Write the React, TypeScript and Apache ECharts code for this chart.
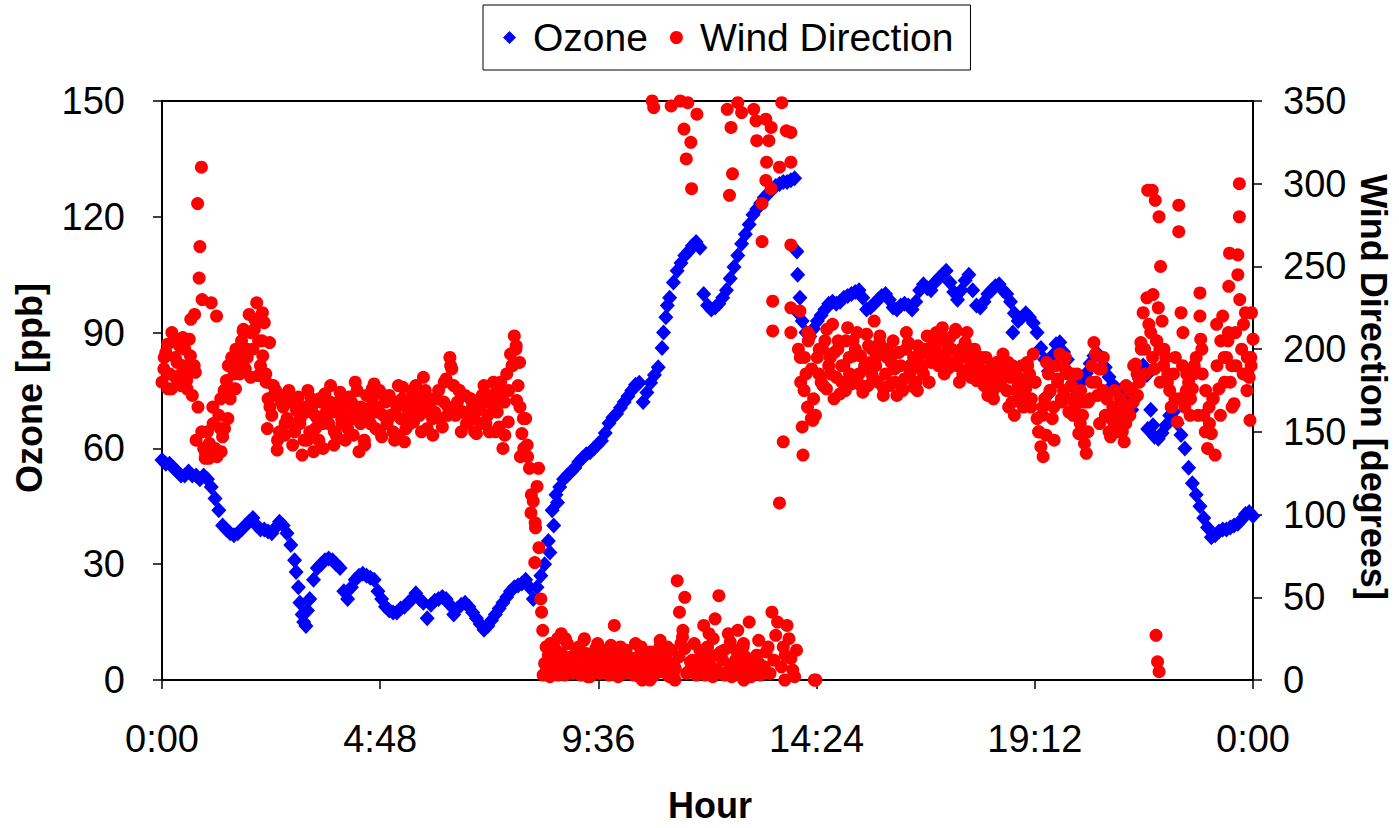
import React, { useEffect, useRef } from "react";
import * as echarts from "echarts";

// time step of the regular series, minutes
const STEP = 5;

const xTickLabels = ["0:00", "4:48", "9:36", "14:24", "19:12", "0:00"];

// Ozone [ppb], every 5 minutes from 0:00 to 24:00 (one row per hour)
const ozone = [
  57, 56, 56, 55, 54, 53, 53, 54, 53, 53, 52, 53,
  52, 50, 47, 44, 40, 39, 38, 37.5, 38, 39, 40, 41,
  42, 40, 39, 39, 38.5, 38, 39.5, 41, 40, 38, 35, 31,
  24, 17, 14, 21, 26, 29, 30, 31, 31.5, 31, 30, 29,
  23, 21, 24, 26, 27, 27.5, 27, 26.5, 26, 23, 21, 19,
  18, 17.5, 17.5, 18.5, 19, 20, 21, 22.5, 21, 20, 16, 19.5,
  20.5, 21, 21.5, 21, 19.5, 17, 18.5, 19.5, 20, 19, 17.5, 16,
  14.5, 13, 14, 15.5, 17, 18.5, 20, 21.5, 23, 24, 24.5, 25,
  26, 24, 21, 24, 27, 30, 36, 44, 48, 50, 52, 53,
  54, 55, 56.5, 57.5, 58.5, 59, 60, 61, 62, 64, 66.5, 68,
  69, 70.5, 72, 73.5, 75, 76.5, 77, 72, 74.5, 77, 79, 81,
  86, 94, 99, 103, 106, 108, 110, 111, 112.5, 113.5, 112, 100,
  97, 96, 96.5, 97.5, 99, 101, 104, 107, 110, 113, 115.5, 118,
  120.5, 122, 123.5, 125, 126, 127, 128, 128.5, 129, 129, 129.5, 130,
  95, 93, 90, 89, 91, 93, 94.5, 96, 97.5, 98, 97.5, 98,
  99, 99.5, 100, 100.5, 101, 99, 96, 96.5, 97.5, 98.5, 99.5, 100,
  98.5, 96.5, 96, 97, 97.5, 97, 96, 98, 101, 102.5, 101.5, 101,
  103, 104, 105, 106, 103, 100.5, 98.5, 101, 103.5, 105, 101, 97,
  96.5, 98, 100, 101, 102, 102.5, 101, 100, 98, 95, 93, 94,
  95, 94, 92.5, 90, 86, 83, 80, 84, 87, 87.5, 85, 83,
  79, 76, 75.5, 77.5, 79.5, 82, 84, 84.5, 83.5, 81, 78.5, 76.5,
  75.5, 75, 74.5, 72, 70, 73, 78, 81.5, 79, 70, 63, 62.5,
  64, 66, 68.5, 69.5, 66.5, 63.5, 60, 55, 51, 48, 45, 42,
  39.5, 37, 37.5, 38.5, 39, 39, 39.5, 40, 40.5, 41.5, 43, 43.5,
  42.5,
];

// additional Ozone readings [minute, ppb]
const ozoneExtra: [number, number][] = [
  [177, 28], [182, 20], [187, 15], [192, 18], [512, 33], [517, 40], [522, 46],
  [662, 90], [667, 97], [838, 111], [839, 105], [842, 99], [1123, 90],
  [1170, 74], [1301, 65], [1308, 66],
];

// Wind direction [degrees], every 5 minutes from 0:00 to 24:00 (one row per hour)
const windDirection = [
  180, 198, 185, 205, 192, 178, 200, 188, 172, 145, 262, 140,
  150, 228, 140, 160, 147, 181, 170, 185, 196, 205, 188, 221,
  200, 228, 190, 216, 170, 160, 175, 150, 165, 158, 168, 150,
  171, 136, 162, 150, 138, 158, 168, 173, 155, 162, 148, 174,
  163, 152, 168, 180, 138, 160, 172, 155, 179, 165, 147, 168,
  172, 150, 165, 158, 144, 168, 175, 178, 160, 183, 152, 170,
  162, 175, 153, 182, 195, 178, 168, 150, 172, 160, 166, 149,
  165, 178, 160, 172, 150, 153, 140, 185, 197, 208, 178, 149,
  158, 128, 108, 117, 49, 10, 15, 5, 18, 8, 12, 22,
  14, 5, 20, 8, 16, 2, 12, 22, 6, 15, 3, 18,
  10, 20, 4, 14, 8, 22, 2, 12, 6, 17, 3, 10,
  5, 15, 2, 10, 60, 22, 50, 5, 12, 3, 18, 33,
  20, 8, 37, 51, 12, 4, 23, 10, 30, 6, 14, 35,
  5, 15, 3, 8, 20, 41, 27, 107, 20, 33, 13, 2,
  200, 153, 185, 208, 170, 195, 180, 205, 190, 215, 183, 173,
  190, 213, 179, 200, 185, 174, 209, 192, 217, 180, 198, 185,
  178, 205, 172, 190, 182, 204, 188, 180, 196, 185, 208, 192,
  200, 190, 213, 198, 207, 192, 190, 200, 204, 188, 195, 181,
  188, 178, 172, 190, 180, 185, 197, 175, 183, 160, 178, 190,
  176, 185, 197, 158, 141, 170, 185, 158, 190, 197, 175, 185,
  178, 165, 149, 160, 137, 170, 204, 172, 188, 160, 150, 165,
  158, 170, 144, 165, 176, 191, 180, 222, 231, 210, 188, 225,
  217, 195, 175, 185, 156, 222, 165, 180, 176, 195, 220, 160,
  140, 149, 136, 176, 220, 195, 180, 167, 245, 200, 222, 183,
  206,
];

// Wind direction [degrees], readings half-way between the rows above (minute 2.5, 7.5, ...)
const windDirectionMid = [
  188, 203, 176, 195, 184, 207, 181, 196, 190, 165, 150, 137,
  143, 155, 135, 170, 152, 190, 176, 200, 185, 212, 195, 210,
  218, 205, 222, 180, 165, 172, 145, 168, 155, 175, 142, 163,
  158, 145, 175, 165, 152, 170, 140, 162, 178, 150, 168, 155,
  170, 160, 148, 175, 165, 142, 158, 176, 162, 150, 172, 157,
  160, 168, 148, 177, 165, 155, 172, 162, 150, 175, 165, 148,
  170, 158, 180, 165, 188, 160, 175, 162, 155, 170, 150, 168,
  172, 155, 168, 180, 162, 170, 148, 175, 190, 202, 165, 140,
  135, 112, 95, 80, 30, 6, 22, 12, 3, 16, 25, 7,
  9, 17, 3, 25, 11, 6, 19, 4, 14, 9, 21, 6,
  15, 5, 18, 9, 3, 13, 20, 7, 11, 2, 15, 24,
  9, 3, 18, 7, 14, 30, 4, 11, 22, 8, 15, 5,
  13, 25, 6, 17, 3, 28, 9, 18, 5, 22, 11, 2,
  10, 24, 7, 17, 4, 12, 35, 8, 15, 25, 6, 18,
  195, 175, 210, 188, 160, 200, 178, 212, 185, 198, 205, 180,
  205, 185, 196, 210, 178, 190, 202, 184, 195, 208, 176, 200,
  192, 180, 198, 175, 210, 190, 177, 202, 188, 198, 180, 195,
  195, 208, 185, 200, 190, 212, 180, 196, 210, 183, 200, 192,
  180, 195, 185, 170, 192, 178, 188, 165, 190, 175, 168, 182,
  190, 170, 180, 150, 165, 192, 175, 145, 182, 168, 195, 170,
  160, 185, 175, 143, 168, 190, 180, 155, 195, 170, 158, 175,
  165, 150, 178, 160, 190, 172, 200, 185, 215, 195, 205, 180,
  200, 185, 165, 195, 170, 210, 185, 170, 190, 160, 200, 175,
  155, 170, 190, 205, 180, 210, 165, 190, 230, 215, 195, 190,
];

// additional wind direction readings [minute, degrees]
const windExtra: [number, number][] = [
  [3, 195], [8, 176], [13, 210], [18, 183], [23, 202], [28, 190], [33, 176], [38, 218],
  [43, 221], [47, 288], [49, 243], [52, 310], [53, 230], [57, 134], [44, 186], [36, 206],
  [62, 134], [67, 165], [72, 220], [77, 152], [82, 175], [87, 158], [92, 195], [97, 176],
  [102, 190], [107, 211], [112, 200], [117, 183], [63, 141], [78, 138],
  [122, 212], [127, 184], [132, 205], [137, 185], [139, 152], [142, 204], [147, 178],
  [152, 139], [157, 172], [162, 148], [167, 174], [172, 155], [177, 166], [133, 196],
  [182, 155], [187, 165], [192, 145], [197, 170], [202, 160], [207, 145], [212, 155],
  [217, 162], [222, 168], [227, 142], [232, 165], [237, 158],
  [242, 145], [247, 171], [252, 158], [257, 165], [262, 155], [267, 145], [272, 164],
  [277, 170], [282, 152], [287, 175], [292, 160], [297, 155],
  [302, 160], [307, 145], [312, 178], [317, 170], [322, 152], [327, 160], [332, 156],
  [337, 165], [342, 172], [347, 168], [352, 162], [357, 158],
  [362, 170], [367, 158], [372, 168], [377, 160], [381, 190], [387, 165], [392, 175],
  [397, 162], [402, 155], [407, 170], [412, 158], [417, 163],
  [422, 155], [427, 170], [432, 150], [437, 165], [442, 175], [447, 180], [452, 168],
  [457, 156], [462, 190], [467, 200], [468, 169], [472, 192], [477, 158], [473, 135],
  [482, 142], [487, 101], [492, 71], [493, 92], [497, 128], [501, 41], [503, 3], [507, 20],
  [512, 2], [517, 12], [522, 25], [527, 15], [532, 3], [537, 10], [527, 28],
  [542, 4], [547, 18], [552, 10], [557, 24], [562, 2], [567, 15], [572, 8], [577, 13],
  [582, 18], [587, 7], [592, 12], [597, 33], [593, 4],
  [602, 2], [607, 12], [612, 17], [617, 5], [622, 13], [627, 9], [632, 18], [637, 5],
  [642, 14], [647, 350], [649, 346], [652, 8], [657, 20], [644, 0], [634, 0],
  [662, 12], [668, 8], [672, 347], [677, 0], [683, 41], [684, 350], [687, 26], [689, 333],
  [690, 19], [692, 315], [694, 349], [698, 325], [699, 297], [706, 342], [712, 8],
  [717, 3], [702, 7], [675, 4], [667, 20],
  [722, 28], [727, 2], [732, 15], [742, 18], [747, 5], [752, 2], [757, 12], [762, 8],
  [767, 20], [772, 3], [746, 345], [751, 334], [749, 293], [753, 306], [760, 349],
  [765, 343], [768, 0],
  [781, 345], [784, 338], [785, 326], [797, 339], [798, 313], [797, 302], [801, 326],
  [804, 334], [804, 297], [792, 288], [792, 265], [815, 310], [818, 349], [824, 332],
  [830, 331], [830, 313], [830, 263], [806, 229], [806, 211], [830, 225], [830, 210],
  [820, 144], [788, 10], [822, 0],
  [842, 223], [843, 180], [846, 136], [848, 195], [852, 165], [857, 158], [859, 157],
  [861, 0], [863, 0], [867, 185], [872, 200], [877, 176], [882, 195], [887, 170],
  [892, 200], [897, 190], [853, 205],
  [902, 175], [907, 195], [912, 205], [917, 182], [922, 196], [927, 188], [932, 178],
  [937, 200], [942, 190], [947, 204], [952, 172], [957, 195],
  [962, 195], [967, 188], [972, 198], [977, 176], [982, 200], [987, 185], [992, 195],
  [997, 175], [1002, 190], [1007, 200], [1012, 180], [1017, 205],
  [1022, 210], [1027, 205], [1032, 195], [1037, 188], [1042, 200], [1047, 210],
  [1052, 196], [1057, 185], [1062, 195], [1067, 200], [1072, 183], [1077, 190],
  [1082, 195], [1087, 185], [1092, 180], [1097, 175], [1102, 192], [1107, 178],
  [1112, 185], [1117, 192], [1122, 168], [1127, 185], [1132, 172], [1137, 165],
  [1142, 192], [1147, 165], [1152, 180], [1157, 150], [1162, 160], [1163, 135],
  [1167, 148], [1172, 175], [1177, 165], [1182, 180], [1187, 170], [1192, 188], [1197, 162],
  [1202, 185], [1207, 172], [1212, 155], [1217, 168], [1222, 150], [1227, 180],
  [1232, 197], [1237, 188], [1242, 175], [1247, 170], [1252, 147], [1257, 155],
  [1262, 150], [1267, 162], [1272, 155], [1277, 175], [1282, 168], [1287, 185],
  [1292, 204], [1297, 200], [1301, 296], [1307, 296], [1308, 233], [1311, 290],
  [1312, 27], [1314, 11], [1316, 280], [1316, 5], [1313, 205], [1317, 200],
  [1318, 250], [1322, 190], [1327, 180], [1332, 165], [1337, 170], [1342, 287],
  [1342, 271], [1347, 190], [1352, 175], [1357, 160], [1362, 185], [1370, 234],
  [1371, 206], [1373, 185], [1377, 150],
  [1382, 165], [1387, 170], [1392, 215], [1397, 160], [1402, 195], [1407, 205],
  [1408, 238], [1409, 258], [1412, 190], [1417, 210], [1420, 257], [1422, 280],
  [1422, 300], [1427, 185], [1432, 175], [1436, 157], [1438, 222], [1437, 195],
];

const FONT = '"Liberation Sans", Arial, Helvetica, sans-serif';

export default function App() {
  const ref = useRef<HTMLDivElement>(null);

  useEffect(() => {
    if (!ref.current) return;
    const chart = echarts.init(ref.current, undefined, { renderer: "svg" });

    const ozoneData = ozone.map((v, i) => [i * STEP, v]).concat(ozoneExtra);
    const windData = windDirection
      .map((v, i) => [i * STEP, v])
      .concat(windDirectionMid.map((v, i) => [i * STEP + STEP / 2, v]))
      .concat(windExtra);

    const axisCommon = {
      axisLine: { show: true, lineStyle: { color: "#000", width: 2 } },
      axisTick: { show: true, length: 9, lineStyle: { color: "#000", width: 1.5 } },
      splitLine: { show: false },
    };

    chart.setOption({
      animation: false,
      backgroundColor: "#fff",
      textStyle: { fontFamily: FONT },
      legend: {
        left: 483,
        top: 5,
        padding: [13, 17, 13, 20],
        itemGap: 22,
        itemWidth: 13,
        itemHeight: 13,
        symbolKeepAspect: true,
        borderColor: "#000",
        borderWidth: 1,
        borderRadius: 0,
        textStyle: {
          fontSize: 39,
          color: "#000",
          fontFamily: FONT,
          padding: [0, 0, 0, 12],
        },
        data: [
          { name: "Ozone", icon: "diamond" },
          { name: "Wind Direction", icon: "circle" },
        ],
      },
      grid: {
        left: 162,
        top: 101,
        width: 1091,
        height: 579,
        show: true,
        borderColor: "#000",
        borderWidth: 2,
        backgroundColor: "transparent",
      },
      xAxis: {
        type: "value",
        min: 0,
        max: 1440,
        interval: 288,
        ...axisCommon,
        axisLabel: {
          fontSize: 38,
          color: "#000",
          margin: 40,
          fontFamily: FONT,
          formatter: (v: number) => xTickLabels[Math.round(v / 288)] ?? "",
        },
      },
      yAxis: [
        {
          type: "value",
          position: "left",
          min: 0,
          max: 150,
          interval: 30,
          ...axisCommon,
          axisLabel: { fontSize: 38, color: "#000", margin: 37, fontFamily: FONT },
        },
        {
          type: "value",
          position: "right",
          min: 0,
          max: 350,
          interval: 50,
          ...axisCommon,
          axisLabel: { fontSize: 38, color: "#000", margin: 30, fontFamily: FONT },
        },
      ],
      series: [
        {
          type: "scatter",
          name: "Ozone",
          symbol: "diamond",
          symbolSize: [15, 16],
          itemStyle: { color: "#0000ff", opacity: 1 },
          data: ozoneData,
        },
        {
          type: "scatter",
          name: "Wind Direction",
          yAxisIndex: 1,
          symbol: "circle",
          symbolSize: 13,
          itemStyle: { color: "#ff0000", opacity: 1 },
          data: windData,
        },
      ],
      graphic: [
        {
          type: "text",
          x: 29,
          y: 388,
          rotation: Math.PI / 2,
          style: {
            text: "Ozone [ppb]",
            font: `bold 36px ${FONT}`,
            fill: "#000",
            align: "center",
            verticalAlign: "middle",
            textAlign: "center",
            textVerticalAlign: "middle",
          },
        },
        {
          type: "text",
          x: 1373,
          y: 387,
          rotation: -Math.PI / 2,
          style: {
            text: "Wind Direction [degrees]",
            font: `bold 36px ${FONT}`,
            fill: "#000",
            align: "center",
            verticalAlign: "middle",
            textAlign: "center",
            textVerticalAlign: "middle",
          },
        },
        {
          type: "text",
          x: 710,
          y: 805,
          style: {
            text: "Hour",
            font: `bold 36px ${FONT}`,
            fill: "#000",
            align: "center",
            verticalAlign: "middle",
            textAlign: "center",
            textVerticalAlign: "middle",
          },
        },
      ],
    });

    return () => chart.dispose();
  }, []);

  return (
    <div
      ref={ref}
      style={{ position: "fixed", left: 0, top: 0, width: 1399, height: 828 }}
    />
  );
}
